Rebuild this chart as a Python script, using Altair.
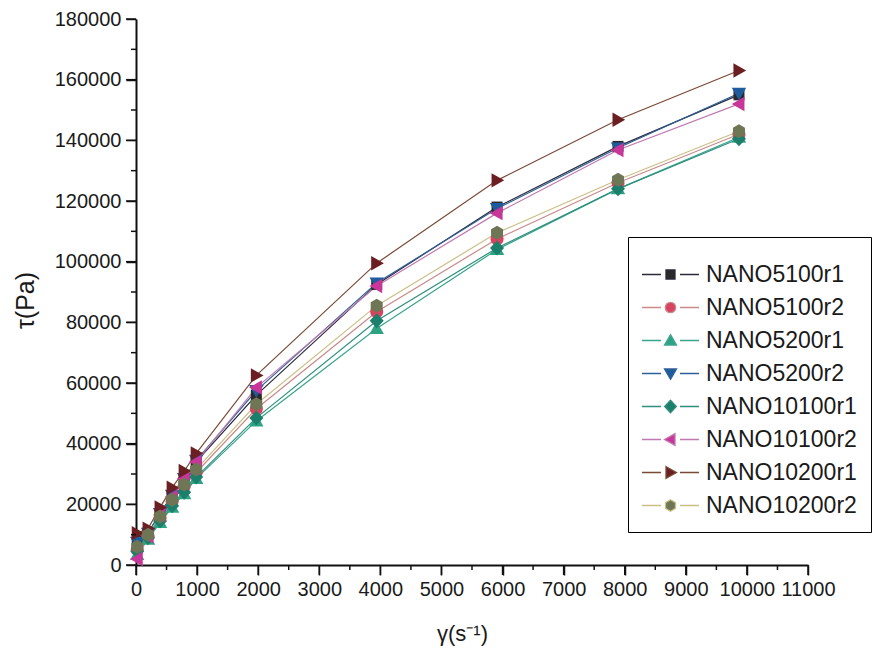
import altair as alt
import pandas as pd

series = ["NANO5100r1", "NANO5100r2", "NANO5200r1", "NANO5200r2",
          "NANO10100r1", "NANO10100r2", "NANO10200r1", "NANO10200r2"]
shear_rate = [20, 197, 394, 591, 788, 985, 1970, 3940, 5910, 7890, 9870]

nano5100r1 = [8000, 10500, 17000, 23000, 28500, 34000, 56000, 92500, 118000, 138000, 155000]
nano5100r2 = [5000, 9500, 15500, 21000, 26000, 30500, 51500, 83500, 107500, 126000, 142000]
nano5200r1 = [3500, 8500, 14000, 19000, 23500, 28500, 47500, 78000, 104000, 124000, 141000]
nano5200r2 = [7500, 10500, 17000, 23000, 28500, 34500, 57500, 93000, 117500, 137500, 155500]
nano10100r1 = [4500, 9000, 14500, 19500, 24000, 29000, 48500, 80500, 104500, 124000, 140500]
nano10100r2 = [2000, 9500, 16500, 22500, 28500, 34000, 58500, 92000, 116000, 136800, 152000]
nano10200r1 = [10500, 12000, 19000, 25500, 31000, 36800, 62500, 99500, 126800, 146800, 163000]
nano10200r2 = [6000, 10000, 16000, 21500, 26500, 31500, 53000, 85500, 109500, 127000, 143000]

values = [nano5100r1, nano5100r2, nano5200r1, nano5200r2,
          nano10100r1, nano10100r2, nano10200r1, nano10200r2]

marker_colors = ["#2a2a2a", "#d8435f", "#2ea383", "#1f5c9e",
                 "#1c7f6c", "#c8369a", "#6b1f22", "#6f7655"]
line_colors = ["#2a2a3a", "#c98a8a", "#3aa58f", "#2e5f98",
               "#2e8f7e", "#c07ab0", "#7a4a35", "#cbbf86"]

x_major = list(range(0, 11001, 1000))
x_minor = list(range(500, 11001, 1000))
y_major = list(range(0, 180001, 20000))
y_minor = list(range(10000, 180001, 20000))

marker_paths = [
    "M-0.55,-0.55H0.55V0.55H-0.55Z",
    "M-0.65,0A0.65,0.65,0,1,0,0.65,0A0.65,0.65,0,1,0,-0.65,0Z",
    "M0,-0.72L0.72,0.55L-0.72,0.55Z",
    "M0,0.72L0.72,-0.55L-0.72,-0.55Z",
    "M0,-0.75L0.7,0L0,0.75L-0.7,0Z",
    "M-0.72,0L0.55,-0.72L0.55,0.72Z",
    "M0.72,0L-0.55,-0.72L-0.55,0.72Z",
    "M0,-0.7L0.6,-0.35L0.6,0.35L0,0.7L-0.6,0.35L-0.6,-0.35Z",
]
legend_marker_paths = [
    "M-0.45,-0.45H0.45V0.45H-0.45Z",
    "M-0.52,0A0.52,0.52,0,1,0,0.52,0A0.52,0.52,0,1,0,-0.52,0Z",
    "M0,-0.58L0.6,0.45L-0.6,0.45Z",
    "M0,0.58L0.6,-0.45L-0.6,-0.45Z",
    "M0,-0.62L0.58,0L0,0.62L-0.58,0Z",
    "M-0.6,0L0.45,-0.58L0.45,0.58Z",
    "M0.6,0L-0.45,-0.58L-0.45,0.58Z",
    "M0,-0.58L0.5,-0.29L0.5,0.29L0,0.58L-0.5,0.29L-0.5,-0.29Z",
]
stub = "M-2.85,0H-0.95M0.95,0H2.85"
legend_paths = [stub + p for p in legend_marker_paths]

rows = []
for i, (name, vals) in enumerate(zip(series, values)):
    for x, y in zip(shear_rate, vals):
        rows.append({"series": name, "rate": x, "tau": y, "idx": i})
df = pd.DataFrame(rows)

W, H = 672, 546
FONT = "Liberation Sans"
INK = "#111111"
x_scale = alt.Scale(domain=[0, 11000], nice=False, zero=False)
y_scale = alt.Scale(domain=[0, 180000], nice=False, zero=False)

x_enc = alt.X(
    "rate:Q",
    scale=x_scale,
    axis=alt.Axis(
        values=x_major, format="d", ticks=True, tickSize=10, tickColor=INK, tickWidth=1.5,
        labelFlush=False, labelOverlap=False, labelPadding=4,
        domainColor=INK, domainWidth=2, grid=False,
        title="γ(s⁻¹)", titleFontSize=22, titlePadding=24, titleX=326,
    ),
)
y_enc = alt.Y(
    "tau:Q",
    scale=y_scale,
    axis=alt.Axis(
        values=y_major, format="d", ticks=True, tickSize=10, tickColor=INK, tickWidth=1.5,
        labelFlush=False, labelOverlap=False, labelPadding=5,
        domainColor=INK, domainWidth=2, grid=False,
        title="τ(Pa)", titleFontSize=25, titlePadding=16, titleY=281,
    ),
)

lines = alt.Chart(df).mark_line(strokeWidth=1.2).encode(
    x=x_enc,
    y=y_enc,
    color=alt.Color("series:N", scale=alt.Scale(domain=series, range=line_colors), legend=None),
    order="rate:Q",
)

points = alt.Chart(df).mark_point(filled=True, size=400, opacity=1, strokeWidth=0).encode(
    x="rate:Q",
    y="tau:Q",
    fill=alt.Fill("series:N", scale=alt.Scale(domain=series, range=marker_colors), legend=None),
    shape=alt.Shape("series:N", scale=alt.Scale(domain=series, range=marker_paths), legend=None),
    order="idx:Q",
)

leg = alt.Legend(
    title=" ",
    titleFontSize=8,
    titlePadding=4,
    orient="none",
    legendX=492,
    legendY=218,
    padding=14,
    strokeColor="black",
    fillColor="white",
    labelFont=FONT,
    labelFontSize=23,
    labelColor="#1a1a1a",
    labelExpr="datum.label + '   '",
    symbolSize=400,
    symbolStrokeWidth=1.3,
    symbolOffset=17,
    labelOffset=24,
    rowPadding=9,
)

legend_layer = alt.Chart(df).transform_filter("false").mark_point(
    filled=False, size=400, strokeWidth=1.3, opacity=1
).encode(
    x="rate:Q",
    y="tau:Q",
    fill=alt.Fill("series:N", scale=alt.Scale(domain=series, range=marker_colors), legend=leg),
    stroke=alt.Stroke("series:N", scale=alt.Scale(domain=series, range=line_colors), legend=leg),
    shape=alt.Shape("series:N", scale=alt.Scale(domain=series, range=legend_paths), legend=leg),
)

# tick marks drawn from the tick-value lists through the axis scales
xt_major_df = pd.DataFrame({"rate": x_major})
xt_minor_df = pd.DataFrame({"rate": x_minor})
yt_major_df = pd.DataFrame({"tau": y_major})
yt_minor_df = pd.DataFrame({"tau": y_minor})

def x_ticks(data, length):
    return alt.Chart(data).mark_rule(color=INK, strokeWidth=1.5).encode(
        x="rate:Q",
        y=alt.value(H),
        y2=alt.value(H + length),
    )

def y_ticks(data, length):
    return alt.Chart(data).mark_rule(color=INK, strokeWidth=1.5).encode(
        y="tau:Q",
        x=alt.value(0),
        x2=alt.value(-length),
    )

chart = alt.layer(
    lines, points, legend_layer,
    x_ticks(xt_major_df, 10), x_ticks(xt_minor_df, 5),
    y_ticks(yt_major_df, 10), y_ticks(yt_minor_df, 5),
).resolve_scale(
    shape="independent", fill="independent", stroke="independent"
).properties(
    width=W,
    height=H,
    padding={"left": 136, "top": 19, "right": 72, "bottom": 92},
    autosize=alt.AutoSizeParams(type="none"),
    background="white",
).configure_view(
    stroke=None
).configure_axis(
    labelFont=FONT,
    labelFontSize=20,
    labelColor="#1a1a1a",
    titleFont=FONT,
    titleFontWeight="normal",
    titleColor="#1a1a1a",
)

chart.save("out.html", embed_options={"renderer": "svg", "actions": False})
